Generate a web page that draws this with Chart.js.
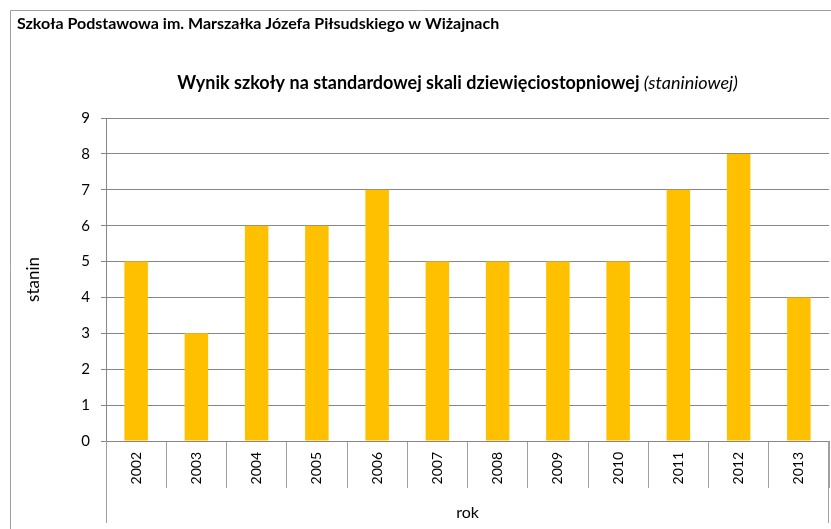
<!DOCTYPE html>
<html>
<head>
<meta charset="utf-8">
<script src="https://cdn.jsdelivr.net/npm/chart.js@4.4.1/dist/chart.umd.min.js"></script>
<style>
  body { margin: 0; background: #fff; }
  canvas { display: block; }
</style>
</head>
<body>
<canvas id="myChart" width="831" height="529"></canvas>
<script>
// dane z wykresu
const years = ['2002', '2003', '2004', '2005', '2006', '2007', '2008', '2009', '2010', '2011', '2012', '2013'];
const stanin = [5, 3, 6, 6, 7, 5, 5, 5, 5, 7, 8, 4];
const yTicks = [0, 1, 2, 3, 4, 5, 6, 7, 8, 9];

const headerText = 'Szkoła Podstawowa im. Marszałka Józefa Piłsudskiego w Wiżajnach';
const titleBold = 'Wynik szkoły na standardowej skali dziewięciostopniowej';
const titleItalic = '(staniniowej)';

const fontName = 'Lato';

// naglowek, tytul z kursywa, ramka i dluzsze kreski osi X
const frame = {
    id: 'frame',
    afterDraw(chart) {
        const ctx = chart.ctx;
        const area = chart.chartArea;
        ctx.save();
        ctx.strokeStyle = '#a0a0a0';
        ctx.lineWidth = 1;
        ctx.beginPath();
        ctx.moveTo(10.5, chart.height);
        ctx.lineTo(10.5, 10.5);
        ctx.lineTo(chart.width, 10.5);
        ctx.stroke();

        // zewnetrzne kreski kategorii
        ctx.beginPath();
        ctx.moveTo(Math.round(area.left) + 0.5, area.bottom);
        ctx.lineTo(Math.round(area.left) + 0.5, 523);
        ctx.moveTo(Math.round(area.right) - 0.5, area.bottom);
        ctx.lineTo(Math.round(area.right) - 0.5, 523);
        ctx.stroke();

        ctx.fillStyle = '#000';
        ctx.textBaseline = 'alphabetic';
        ctx.textAlign = 'left';
        ctx.font = 'bold 16px ' + fontName;
        ctx.fillText(headerText, 17, 29);

        const boldFont = 'bold 18px ' + fontName;
        const italicFont = 'italic 18px ' + fontName;
        ctx.font = boldFont;
        const w1 = ctx.measureText(titleBold + ' ').width;
        ctx.font = italicFont;
        const w2 = ctx.measureText(titleItalic).width;
        let x = 457.5 - (w1 + w2) / 2;
        ctx.font = boldFont;
        ctx.fillText(titleBold + ' ', x, 89);
        ctx.font = italicFont;
        ctx.fillText(titleItalic, x + w1, 89);
        ctx.restore();
    }
};

const ctx = document.getElementById('myChart').getContext('2d');
const myChart = new Chart(ctx, {
    type: 'bar',
    data: {
        labels: years,
        datasets: [{
            label: 'stanin',
            data: stanin,
            backgroundColor: '#FFC000',
            borderWidth: 0,
            barPercentage: 0.39,
            categoryPercentage: 1.0
        }]
    },
    options: {
        responsive: false,
        maintainAspectRatio: false,
        animation: false,
        layout: {
            padding: { top: 118, right: 2, bottom: 0, left: 0 }
        },
        plugins: {
            legend: { display: false },
            tooltip: { enabled: false }
        },
        scales: {
            x: {
                afterFit(scale) { scale.height = 88; },
                grid: {
                    drawOnChartArea: false,
                    drawTicks: true,
                    tickLength: 47,
                    color: '#a0a0a0'
                },
                border: { display: true, color: '#868686' },
                ticks: {
                    autoSkip: false,
                    minRotation: 90,
                    maxRotation: 90,
                    padding: -36,
                    color: '#000',
                    font: { family: fontName, size: 14 }
                },
                title: {
                    display: true,
                    text: 'rok',
                    color: '#000',
                    font: { family: fontName, size: 16 },
                    padding: { top: 0, bottom: 7 }
                }
            },
            y: {
                min: 0,
                max: 9,
                afterFit(scale) { scale.width = 106; },
                afterBuildTicks(scale) {
                    scale.ticks = yTicks.map(v => ({ value: v }));
                },
                grid: {
                    color: '#868686',
                    tickLength: 5
                },
                border: { color: '#868686' },
                ticks: {
                    padding: 11,
                    color: '#000',
                    font: { family: fontName, size: 15 }
                },
                title: {
                    display: true,
                    text: 'stanin',
                    color: '#000',
                    font: { family: fontName, size: 17 },
                    padding: { top: 23, bottom: 0 }
                }
            }
        }
    },
    plugins: [frame]
});
</script>
</body>
</html>
